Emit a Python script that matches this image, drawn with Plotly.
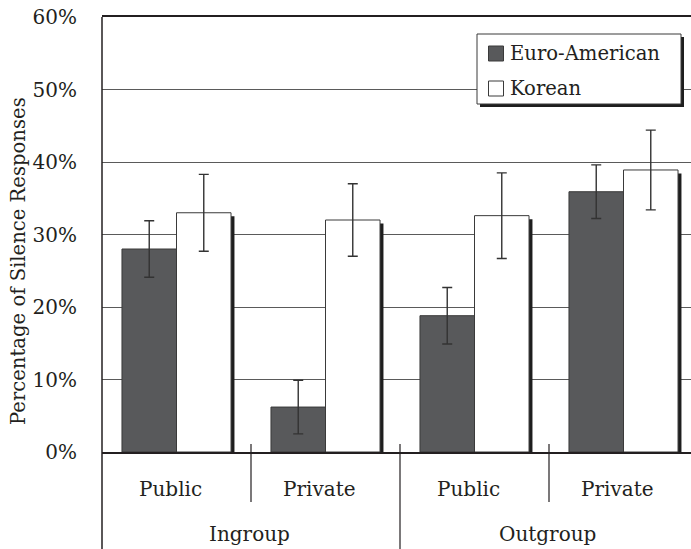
import plotly.graph_objects as go

# ---- data -------------------------------------------------------------
conditions = ["Public", "Private", "Public", "Private"]
groups = ["Ingroup", "Outgroup"]
euro_american = [28.0, 6.2, 18.8, 35.9]
euro_american_err = [3.9, 3.7, 3.9, 3.7]
korean = [33.0, 32.0, 32.6, 38.9]
korean_err = [5.3, 5.0, 5.9, 5.5]
y_ticks = [0, 10, 20, 30, 40, 50, 60]
y_tick_labels = ["0%", "10%", "20%", "30%", "40%", "50%", "60%"]
series_names = ["Euro-American", "Korean"]

# ---- style ------------------------------------------------------------
W, H = 691, 549
ML, MR, MT, MB = 102, 0, 17, 97
PW, PH = W - ML - MR, H - MT - MB
FONT = "DejaVu Serif"
FS = 20
INK = "#231f20"
DARK = "#58595b"
EDGE = "#3a3a3a"
GRID = "#5a5a5a"
BAR_W = 0.366
x_pos = list(range(len(conditions)))
cat_px = 149.0  # width of one category in pixels
x_range = [-0.5, -0.5 + PW / cat_px]


def px_x(p):
    return (p - ML) / PW


def px_y(p):
    return (H - MB - p) / PH


fig = go.Figure()

# drop shadow behind the white bars
fig.add_trace(go.Bar(
    x=x_pos, y=korean, base=-0.48, offset=0.023, width=BAR_W,
    marker=dict(color="#1e1e1e", line=dict(width=0)),
    showlegend=False, hoverinfo="skip",
))
fig.add_trace(go.Bar(
    x=x_pos, y=euro_american, name=series_names[0], offset=-BAR_W, width=BAR_W,
    marker=dict(color=DARK, line=dict(color=EDGE, width=1)),
    error_y=dict(type="data", array=euro_american_err, color="#333333",
                 thickness=1.4, width=5),
    showlegend=False,
))
fig.add_trace(go.Bar(
    x=x_pos, y=korean, name=series_names[1], offset=0, width=BAR_W,
    marker=dict(color="white", line=dict(color=EDGE, width=1)),
    error_y=dict(type="data", array=korean_err, color="#333333",
                 thickness=1.4, width=5),
    showlegend=False,
))

shapes = []
annotations = []

# left axis line running down through the category label area
shapes.append(dict(type="line", xref="paper", yref="paper",
                   x0=0, x1=0, y0=1, y1=px_y(H), line=dict(color=INK, width=1.5)))
# category separators
for i, xb in enumerate([0.5, 1.5, 2.5]):
    bottom = px_y(H) if i == 1 else px_y(502)
    shapes.append(dict(type="line", xref="x", yref="paper",
                       x0=xb, x1=xb, y0=px_y(444), y1=bottom,
                       line=dict(color=INK, width=1.2)))

# condition labels and group labels
for xi, lab in zip(x_pos, conditions):
    annotations.append(dict(x=xi - 0.04, y=px_y(489), xref="x", yref="paper",
                            text=lab, showarrow=False, xanchor="center",
                            yanchor="middle", font=dict(family=FONT, size=FS, color=INK)))
for gi, lab in enumerate(groups):
    annotations.append(dict(x=0.5 + 2 * gi - 0.01, y=px_y(534), xref="x", yref="paper",
                            text=lab, showarrow=False, xanchor="center",
                            yanchor="middle", font=dict(family=FONT, size=FS, color=INK)))

# y-axis title
annotations.append(dict(x=px_x(18), y=px_y(261), xref="paper", yref="paper",
                        text="Percentage of Silence Responses", textangle=-90,
                        showarrow=False, xanchor="center", yanchor="middle",
                        font=dict(family=FONT, size=19.6, color=INK)))

# legend box with shadow
lx0, lx1, ly0, ly1 = 477, 681, 34, 104
shapes.append(dict(type="rect", xref="paper", yref="paper",
                   x0=px_x(lx0 + 3), x1=px_x(lx1 + 3), y0=px_y(ly0 + 3), y1=px_y(ly1 + 3),
                   fillcolor="#1e1e1e", line=dict(width=0), layer="above"))
shapes.append(dict(type="rect", xref="paper", yref="paper",
                   x0=px_x(lx0), x1=px_x(lx1), y0=px_y(ly0), y1=px_y(ly1),
                   fillcolor="white", line=dict(color=EDGE, width=1), layer="above"))
for name, fill, cy in [(series_names[0], DARK, 53.5), (series_names[1], "white", 88.5)]:
    shapes.append(dict(type="rect", xref="paper", yref="paper",
                       x0=px_x(488.5), x1=px_x(503.5), y0=px_y(cy - 7.5), y1=px_y(cy + 7.5),
                       fillcolor=fill, line=dict(color=EDGE, width=1), layer="above"))
    annotations.append(dict(x=px_x(508), y=px_y(cy), xref="paper", yref="paper",
                            text=name, showarrow=False, xanchor="left", yanchor="middle",
                            font=dict(family=FONT, size=19.6, color=INK)))

fig.update_layout(
    width=W, height=H,
    margin=dict(l=ML, r=MR, t=MT, b=MB, pad=0),
    paper_bgcolor="white", plot_bgcolor="white",
    barmode="overlay",
    shapes=shapes, annotations=annotations,
    font=dict(family=FONT, color=INK),
)
fig.update_xaxes(range=x_range, showticklabels=False, ticks="", showgrid=False,
                 zeroline=False, showline=True, linecolor=INK, linewidth=1.5, mirror=True)
fig.update_yaxes(range=[0, 60], tickvals=y_ticks, ticktext=y_tick_labels,
                 tickfont=dict(family=FONT, size=FS, color=INK),
                 ticks="", ticklabelstandoff=24,
                 showgrid=True, gridcolor=GRID, gridwidth=1,
                 zeroline=False, showline=False)

fig.write_html("out.html")
